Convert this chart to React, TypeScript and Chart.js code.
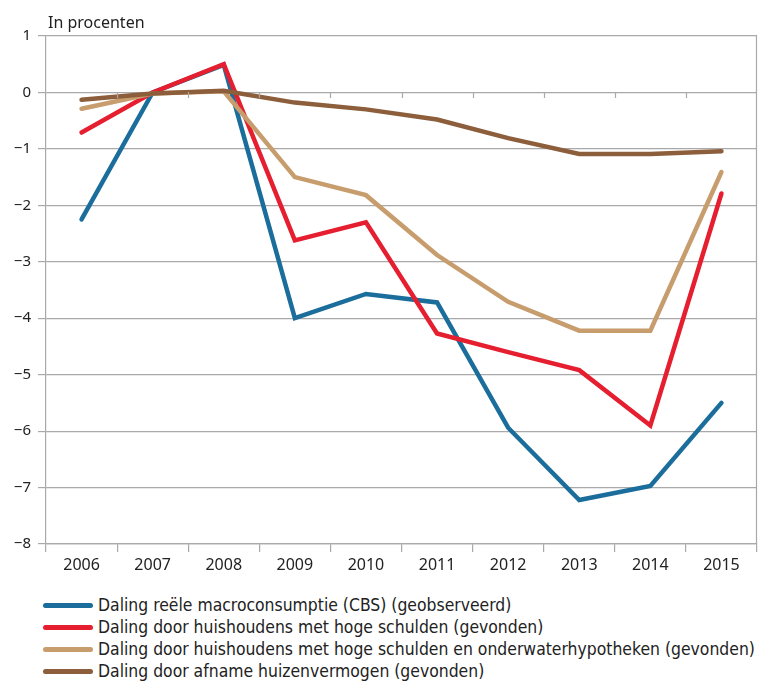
import React, { useEffect, useRef } from "react";
import { Chart, registerables } from "chart.js";

Chart.register(...registerables);

const years = ["2006", "2007", "2008", "2009", "2010", "2011", "2012", "2013", "2014", "2015"];
const macroconsumptie = [-2.25, 0.0, 0.49, -4.0, -3.57, -3.72, -5.94, -7.22, -6.97, -5.5];
const hogeSchulden = [-0.71, 0.0, 0.5, -2.62, -2.3, -4.27, -4.6, -4.92, -5.9, -1.79];
const onderwater = [-0.29, -0.02, 0.02, -1.5, -1.82, -2.88, -3.71, -4.22, -4.22, -1.41];
const huizenvermogen = [-0.13, -0.02, 0.03, -0.18, -0.3, -0.48, -0.81, -1.09, -1.09, -1.04];
const seriesLabels = [
  "Daling reële macroconsumptie (CBS) (geobserveerd)",
  "Daling door huishoudens met hoge schulden (gevonden)",
  "Daling door huishoudens met hoge schulden en onderwaterhypotheken (gevonden)",
  "Daling door afname huizenvermogen (gevonden)",
];
const seriesColors = ["#1b6d9b", "#e51f2f", "#c79d6d", "#8c5e3b"];
const yTickLabels = ["1", "0", "−1", "−2", "−3", "−4", "−5", "−6", "−7", "−8"];
const yUnit = "In procenten";

const GRID = "#a9a9a9";
const FONT = "'Noto Sans', sans-serif";

const decor = {
  id: "decor",
  afterDraw(chart: any) {
    const { ctx, chartArea, scales } = chart;
    const x = scales.x;
    const y = scales.y;
    ctx.save();
    ctx.strokeStyle = GRID;
    ctx.lineWidth = 1.2;
    // right border
    ctx.beginPath();
    ctx.moveTo(chartArea.right - 0.5, chartArea.top);
    ctx.lineTo(chartArea.right - 0.5, chartArea.bottom);
    ctx.stroke();
    // tick marks under the zero line
    const y0 = Math.round(y.getPixelForValue(0));
    const half = (x.getPixelForValue(1) - x.getPixelForValue(0)) / 2;
    for (let i = 1; i < years.length; i++) {
      const px = Math.round(x.getPixelForValue(i) - half) + 0.5;
      ctx.beginPath();
      ctx.moveTo(px, y0);
      ctx.lineTo(px, y0 + 6);
      ctx.stroke();
    }
    ctx.restore();
    // unit text
    ctx.save();
    ctx.fillStyle = "#222";
    ctx.font = "16px " + FONT;
    ctx.textAlign = "left";
    ctx.textBaseline = "alphabetic";
    ctx.fillText(yUnit, chartArea.left + 2, 28);
    ctx.restore();
  },
};

export default function App() {
  const ref = useRef<HTMLCanvasElement | null>(null);
  useEffect(() => {
    if (!ref.current) return;
    const data = [macroconsumptie, hogeSchulden, onderwater, huizenvermogen];
    const chart = new Chart(ref.current, {
      type: "line",
      data: {
        labels: years,
        datasets: data.map((d, i) => ({
          label: seriesLabels[i],
          data: d,
          borderColor: seriesColors[i],
          backgroundColor: seriesColors[i],
          borderWidth: 4.5,
          pointRadius: 0,
          pointHoverRadius: 0,
          tension: 0,
          fill: false,
          borderCapStyle: "round" as const,
          borderJoinStyle: "miter" as const,
          order: 4 - i,
        })),
      },
      options: {
        responsive: false,
        animation: false,
        devicePixelRatio: 1,
        layout: { padding: { top: 36, right: 2, left: 0, bottom: 0 } },
        plugins: {
          legend: { display: false },
          title: { display: false },
          tooltip: { enabled: false },
        },
        scales: {
          x: {
            type: "category",
            offset: true,
            grid: {
              display: true,
              offset: true,
              drawOnChartArea: false,
              drawTicks: true,
              tickLength: 8,
              color: GRID,
              lineWidth: 1.2,
            },
            border: { display: true, color: GRID, width: 1.2 },
            ticks: {
              color: "#222",
              font: { family: FONT, size: 16 },
              padding: 4,
              maxRotation: 0,
              autoSkip: false,
            },
            afterFit: (s: any) => {
              s.height = 46;
            },
          },
          y: {
            min: -8,
            max: 1,
            ticks: {
              stepSize: 1,
              color: "#222",
              font: { family: FONT, size: 15 },
              padding: 7,
              callback: (v: any) => yTickLabels[1 - Number(v)] ?? String(v),
            },
            grid: {
              color: GRID,
              lineWidth: 1.2,
              drawTicks: true,
              tickLength: 8,
            },
            border: { display: true, color: GRID, width: 1.2 },
            afterFit: (s: any) => {
              s.width = 46;
            },
          },
        },
      },
      plugins: [decor],
    });
    return () => chart.destroy();
  }, []);

  return (
    <div style={{ position: "absolute", left: 0, top: 0, width: 759, height: 681, background: "#fff" }}>
      <canvas ref={ref} width={759} height={590} style={{ position: "absolute", left: 0, top: 0 }} />
      <div style={{ position: "absolute", left: 43, top: 594, fontFamily: "'DejaVu Sans Condensed', 'DejaVu Sans', sans-serif", fontSize: 17.4, color: "#222" }}>
        {seriesLabels.map((l, i) => (
          <div key={l} style={{ display: "flex", alignItems: "center", height: 22, whiteSpace: "nowrap" }}>
            <span style={{ display: "inline-block", width: 50, height: 5, borderRadius: 3, background: seriesColors[i], marginRight: 5 }} />
            <span>{l}</span>
          </div>
        ))}
      </div>
    </div>
  );
}
